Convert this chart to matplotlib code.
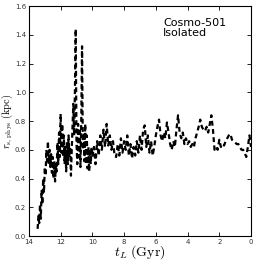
import matplotlib
matplotlib.use("Agg")
import matplotlib.pyplot as plt

plt.rcParams['mathtext.fontset'] = 'cm'

# lookback time (Gyr) and scale radius (kpc)
t_early = [13.45, 13.40, 13.35, 13.30, 13.25, 13.20, 13.15, 13.10, 13.05, 13.00,
           12.95, 12.90, 12.85, 12.80, 12.75, 12.70, 12.65, 12.60, 12.55, 12.50,
           12.45, 12.40, 12.35, 12.30, 12.25, 12.20, 12.15, 12.10, 12.05, 12.00,
           11.95, 11.90, 11.85, 11.80, 11.75, 11.70, 11.65, 11.60, 11.55, 11.50,
           11.45, 11.40, 11.35, 11.30, 11.25, 11.20, 11.15, 11.10, 11.05, 11.00,
           10.95, 10.90, 10.85, 10.80, 10.75, 10.70, 10.65, 10.60, 10.55, 10.50,
           10.45, 10.40, 10.35, 10.30, 10.25, 10.20, 10.15, 10.10, 10.05]
r_early = [0.05, 0.14, 0.09, 0.22, 0.12, 0.32, 0.22, 0.40, 0.30, 0.48,
           0.42, 0.60, 0.52, 0.66, 0.50, 0.60, 0.48, 0.57, 0.44, 0.55,
           0.40, 0.52, 0.38, 0.50, 0.45, 0.65, 0.50, 0.72, 0.55, 0.85,
           0.58, 0.78, 0.55, 0.70, 0.50, 0.62, 0.45, 0.66, 0.50, 0.70,
           0.55, 0.62, 0.42, 0.60, 0.75, 0.92, 0.70, 1.00, 1.44, 0.65,
           0.50, 0.78, 0.55, 0.75, 0.48, 0.80, 1.32, 0.60, 0.72, 0.52,
           0.78, 0.50, 0.70, 0.47, 0.62, 0.45, 0.58, 0.50, 0.62]

t_late = [10.0, 9.9, 9.8, 9.7, 9.6, 9.5, 9.4, 9.3, 9.2, 9.1,
          9.0, 8.9, 8.8, 8.7, 8.6, 8.5, 8.4, 8.3, 8.2, 8.1,
          8.0, 7.9, 7.8, 7.7, 7.6, 7.5, 7.4, 7.3, 7.2, 7.1,
          7.0, 6.9, 6.8, 6.7, 6.6, 6.5, 6.4, 6.3, 6.2, 6.1,
          6.0, 5.9, 5.8, 5.7, 5.6, 5.5, 5.4, 5.3, 5.2, 5.1,
          5.0, 4.9, 4.8, 4.7, 4.6, 4.5, 4.4, 4.3, 4.2, 4.1,
          4.0, 3.9, 3.8, 3.7, 3.6, 3.5, 3.4, 3.3, 3.2, 3.1,
          3.0, 2.9, 2.8, 2.7, 2.6, 2.5, 2.4, 2.3, 2.2, 2.1,
          2.0, 1.9, 1.8, 1.7, 1.6, 1.5, 1.4, 1.3, 1.2, 1.1,
          1.0, 0.9, 0.8, 0.7, 0.6, 0.5, 0.4, 0.3, 0.2, 0.1, 0.0]
r_late = [0.55, 0.62, 0.50, 0.66, 0.56, 0.70, 0.60, 0.74, 0.62, 0.78,
          0.63, 0.70, 0.60, 0.66, 0.56, 0.55, 0.64, 0.56, 0.68, 0.58,
          0.66, 0.60, 0.70, 0.56, 0.64, 0.54, 0.62, 0.56, 0.66, 0.58,
          0.70, 0.60, 0.74, 0.77, 0.62, 0.70, 0.58, 0.66, 0.56, 0.62,
          0.70, 0.76, 0.81, 0.70, 0.66, 0.72, 0.68, 0.79, 0.72, 0.64,
          0.60, 0.66, 0.62, 0.74, 0.84, 0.72, 0.68, 0.72, 0.64, 0.68,
          0.64, 0.66, 0.62, 0.64, 0.62, 0.68, 0.72, 0.76, 0.81, 0.76,
          0.74, 0.73, 0.76, 0.72, 0.78, 0.84, 0.74, 0.60, 0.62, 0.60,
          0.67, 0.62, 0.64, 0.63, 0.66, 0.68, 0.70, 0.71, 0.67, 0.66,
          0.65, 0.64, 0.64, 0.62, 0.60, 0.60, 0.58, 0.55, 0.62, 0.70, 0.62]

t = t_early + t_late
r = r_early + r_late

fig = plt.figure(figsize=(2.58, 2.62), dpi=100)
ax = fig.add_axes([0.112, 0.099, 0.861, 0.878])

ax.plot(t, r, color='black', linestyle='--', linewidth=1.6, dashes=(2.2, 1.5))

ax.set_xlim(14, 0)
ax.set_ylim(0, 1.6)
ax.set_xticks([14, 12, 10, 8, 6, 4, 2, 0])
ax.set_yticks([0.0, 0.2, 0.4, 0.6, 0.8, 1.0, 1.2, 1.4, 1.6])
ax.tick_params(direction='in', top=True, right=True, labelsize=5, length=3,
               width=0.6, labelcolor='#333333', pad=2)
for s in ax.spines.values():
    s.set_linewidth(0.8)

ax.set_xlabel(r'$t_L\ \mathrm{(Gyr)}$', fontsize=10, labelpad=-1)
ax.set_ylabel(r'$r_{\rm s,\,phys}\ \mathrm{(kpc)}$', fontsize=7.5, labelpad=0)

ax.text(0.604, 0.95, 'Cosmo-501\nIsolated', transform=ax.transAxes,
        fontsize=8, va='top', ha='left', linespacing=1.1)

fig.savefig('out.png', dpi=100)
